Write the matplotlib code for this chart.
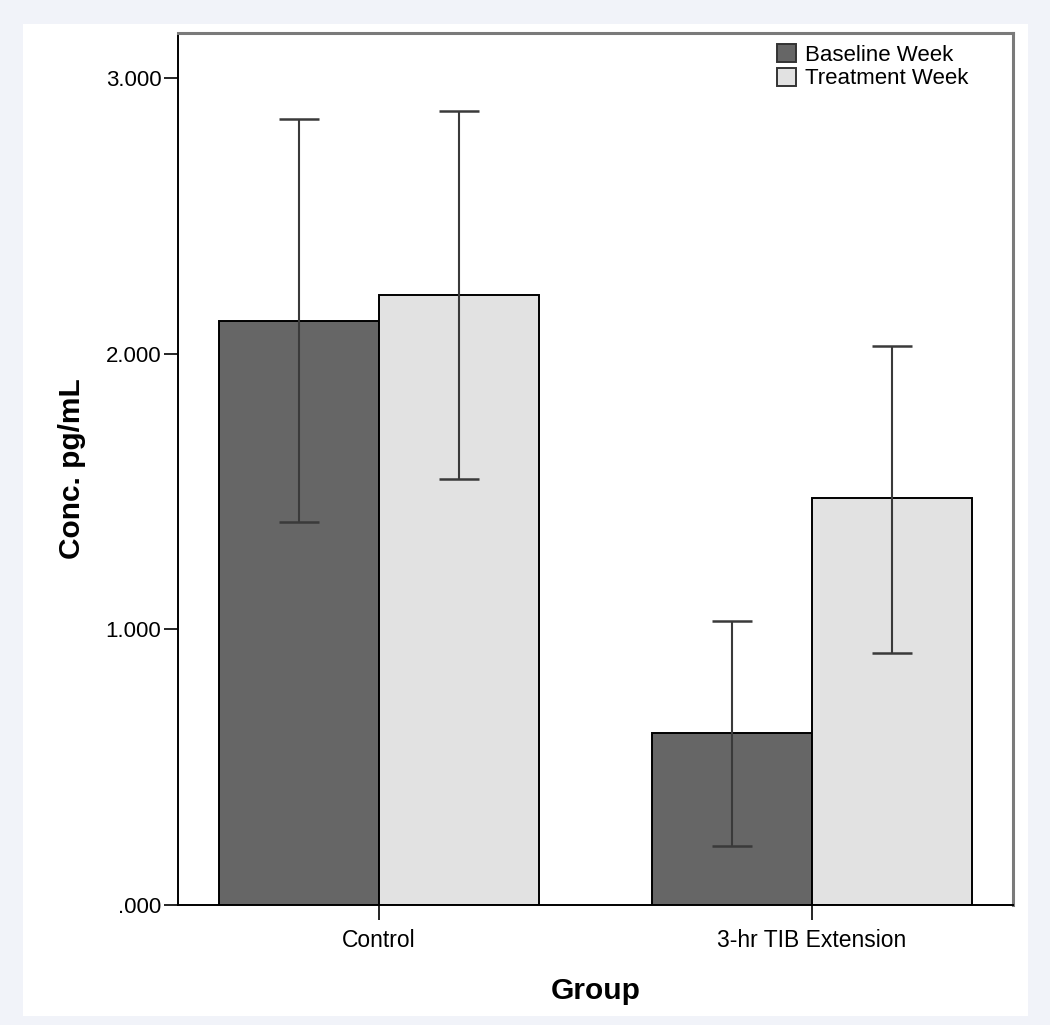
import matplotlib
matplotlib.use("Agg")
import matplotlib.pyplot as plt
from matplotlib.patches import Rectangle, Patch
import numpy as np

plt.rcParams['font.family'] = ['Liberation Sans', 'DejaVu Sans']

groups = ["Control", "3-hr TIB Extension"]
series = ["Baseline Week", "Treatment Week"]
means = {"Baseline Week": [2.118, 0.624], "Treatment Week": [2.213, 1.476]}
upper = {"Baseline Week": [2.851, 1.030], "Treatment Week": [2.880, 2.028]}
lower = {"Baseline Week": [1.389, 0.214], "Treatment Week": [1.545, 0.914]}
yticks = [0, 1, 2, 3]
yticklabels = [".000", "1.000", "2.000", "3.000"]
colors = {"Baseline Week": "#666666", "Treatment Week": "#e2e2e2"}

fig = plt.figure(figsize=(10.5, 10.25), dpi=100)
fig.patch.set_facecolor("#f1f3f9")
fig.patches.append(Rectangle((23/1050, 1 - 1016/1025), (1028-23)/1050, (1016-24)/1025,
                             transform=fig.transFigure, facecolor="white", edgecolor="none", zorder=-5))

ax = fig.add_axes([178/1050, 120/1025, 835/1050, (905-33)/1025])
ax.set_facecolor("white")

x = np.arange(len(groups))
w = 0.37
for i, s in enumerate(series):
    pos = x + (i - 0.5) * w
    m = np.array(means[s])
    ax.bar(pos, m, width=w, color=colors[s], edgecolor="black", linewidth=1.4, zorder=2)
    err = np.array([m - np.array(lower[s]), np.array(upper[s]) - m])
    ax.errorbar(pos, m, yerr=err, fmt="none", ecolor="#3a3a3a", elinewidth=1.5,
                capsize=14.4, capthick=1.8, zorder=3)

ax.set_xlim(-0.464, 1.464)
ax.set_ylim(0, 3.163)
ax.set_xticks(x)
ax.set_xticklabels(groups, fontsize=16.5)
ax.set_yticks(yticks)
ax.set_yticklabels(yticklabels, fontsize=16)
ax.tick_params(axis="y", direction="out", length=10, width=1.2, pad=2)
ax.tick_params(axis="x", direction="out", length=11, width=1.2, pad=6)

for side in ["left", "bottom"]:
    ax.spines[side].set_color("black")
    ax.spines[side].set_linewidth(1.4)
for side in ["top", "right"]:
    ax.spines[side].set_color("#7a7a7a")
    ax.spines[side].set_linewidth(2.2)

ax.set_ylabel("Conc. pg/mL", fontsize=21.5, fontweight="bold", labelpad=14)
ax.set_xlabel("Group", fontsize=21.5, fontweight="bold", labelpad=18)

handles = [Patch(facecolor=colors[s], edgecolor="#333333", linewidth=1.4, label=s) for s in series]
ax.legend(handles=handles, loc="upper right", frameon=False, fontsize=16,
          handlelength=0.85, handleheight=0.85, handletextpad=0.4, labelspacing=0.1,
          borderaxespad=0.1, bbox_to_anchor=(0.96, 1.0))

fig.savefig("out.png", dpi=100, facecolor=fig.get_facecolor())
